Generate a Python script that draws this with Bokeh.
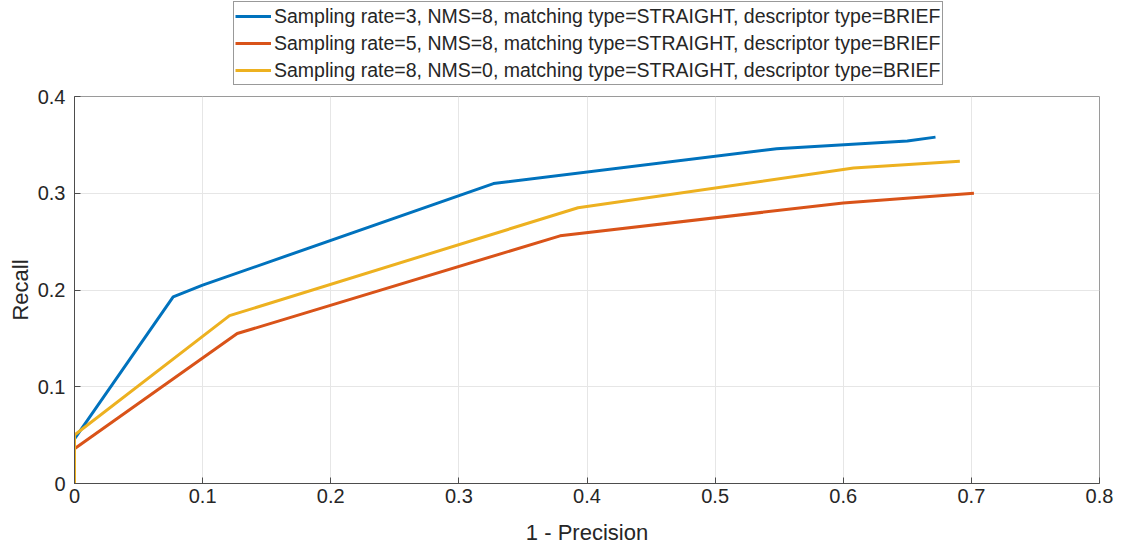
from bokeh.plotting import figure
from bokeh.layouts import column
from bokeh.models import FixedTicker, Legend, LegendItem, Range1d
from bokeh.embed import file_html
from bokeh.resources import INLINE

# Data
blue_x = [0, 0, 0.077, 0.1, 0.327, 0.548, 0.65, 0.672]
blue_y = [0, 0.046, 0.193, 0.205, 0.310, 0.346, 0.354, 0.358]
orange_x = [0, 0, 0.127, 0.379, 0.6, 0.67, 0.702]
orange_y = [0, 0.036, 0.155, 0.256, 0.290, 0.297, 0.300]
yellow_x = [0, 0, 0.121, 0.393, 0.608, 0.691]
yellow_y = [0, 0.050, 0.1735, 0.285, 0.326, 0.333]

labels = [
    "Sampling rate=3, NMS=8, matching type=STRAIGHT, descriptor type=BRIEF",
    "Sampling rate=5, NMS=8, matching type=STRAIGHT, descriptor type=BRIEF",
    "Sampling rate=8, NMS=0, matching type=STRAIGHT, descriptor type=BRIEF",
]
colors = ["#0072BD", "#D95319", "#EDB120"]

x_ticks = [0, 0.1, 0.2, 0.3, 0.4, 0.5, 0.6, 0.7, 0.8]
x_tick_labels = ["0", "0.1", "0.2", "0.3", "0.4", "0.5", "0.6", "0.7", "0.8"]
y_ticks = [0, 0.1, 0.2, 0.3, 0.4]
y_tick_labels = ["0", "0.1", "0.2", "0.3", "0.4"]

FONT = "Liberation Sans"
TXT = "#262626"
LEG_H = 86
series_x = [blue_x, orange_x, yellow_x]
series_y = [blue_y, orange_y, yellow_y]

# ---- main plot ----
p = figure(width=1122, height=547 - LEG_H, output_backend="svg", toolbar_location=None,
           x_range=Range1d(0, 0.8), y_range=Range1d(0, 0.4),
           min_border_left=74, min_border_right=23, min_border_top=10, min_border_bottom=63)

for xs, ys, c in zip(series_x, series_y, colors):
    p.line(xs, ys, line_color=c, line_width=3)

p.xaxis.ticker = FixedTicker(ticks=x_ticks)
p.yaxis.ticker = FixedTicker(ticks=y_ticks)
p.xaxis.major_label_overrides = {t: l for t, l in zip(x_ticks, x_tick_labels)}
p.yaxis.major_label_overrides = {t: l for t, l in zip(y_ticks, y_tick_labels)}

for ax in [p.xaxis[0], p.yaxis[0]]:
    ax.major_label_text_font = FONT
    ax.major_label_text_font_size = "20px"
    ax.major_label_text_color = TXT
    ax.axis_label_text_font = FONT
    ax.axis_label_text_font_size = "22px"
    ax.axis_label_text_font_style = "normal"
    ax.axis_label_text_color = TXT
    ax.axis_line_color = "#4d4d4d"
    ax.major_tick_line_color = "#4d4d4d"
    ax.major_tick_in = 6
    ax.major_tick_out = 0
    ax.minor_tick_line_color = None

p.xaxis.major_label_standoff = 5
p.yaxis.major_label_standoff = 9
p.xaxis.axis_label = "1 - Precision"
p.yaxis.axis_label = "Recall"
p.xaxis.axis_label_standoff = 14
p.yaxis.axis_label_standoff = 2

p.xgrid.ticker = FixedTicker(ticks=x_ticks)
p.ygrid.ticker = FixedTicker(ticks=y_ticks)
p.grid.grid_line_color = "#e6e6e6"
p.grid.grid_line_width = 1

p.outline_line_color = "#9a9a9a"
p.outline_line_width = 1
p.background_fill_color = "white"
p.border_fill_color = "white"

# ---- legend strip above the plot (its lines lie outside its own view) ----
lg = figure(width=1122, height=LEG_H, output_backend="svg", toolbar_location=None,
            x_range=Range1d(5, 6), y_range=Range1d(5, 6), min_border=0)
lg.axis.visible = False
lg.grid.visible = False
lg.outline_line_color = None
lg.border_fill_color = "white"
lg.background_fill_color = "white"
leg_renderers = [lg.line(xs, ys, line_color=c, line_width=3)
                 for xs, ys, c in zip(series_x, series_y, colors)]

legend = Legend(items=[LegendItem(label=l, renderers=[r]) for l, r in zip(labels, leg_renderers)])
legend.location = (159, 1)
legend.orientation = "vertical"
legend.label_text_font = FONT
legend.label_text_font_size = "19.5px"
legend.label_text_color = TXT
legend.label_height = 26
legend.glyph_height = 26
legend.glyph_width = 36
legend.label_standoff = 3
legend.spacing = 1
legend.padding = 1
legend.margin = 0
legend.border_line_color = "#333333"
legend.border_line_width = 1
legend.background_fill_color = "white"
legend.background_fill_alpha = 1
lg.add_layout(legend, "center")

layout = column(lg, p, spacing=0)
open("out.html", "w").write(file_html(layout, INLINE))
